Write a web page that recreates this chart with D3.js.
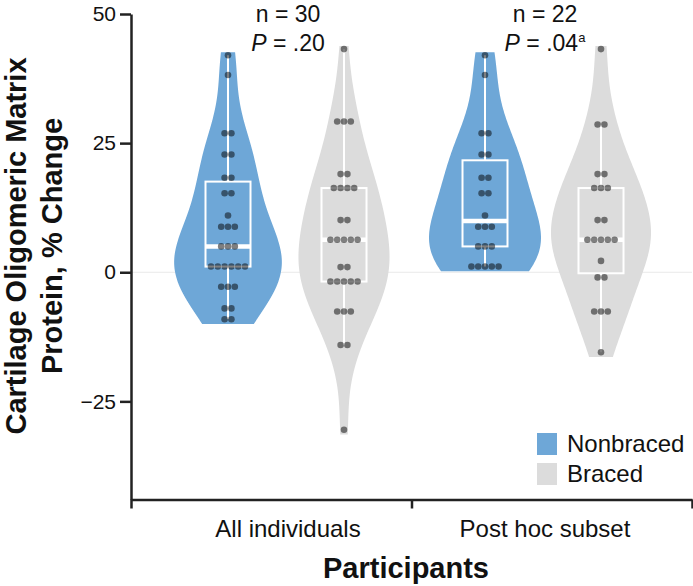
<!DOCTYPE html>
<html><head><meta charset="utf-8">
<script src="https://cdn.jsdelivr.net/npm/d3@7"></script>
<style>
body{margin:0;background:#fff}
svg{display:block}
text{font-family:"Liberation Sans",Arial,Helvetica,sans-serif;fill:#111}
</style>
</head><body>
<svg id="chart" width="693" height="586"></svg>
<script>
// ---------- data ----------
const groups = ["All individuals", "Post hoc subset"];
const seriesNames = ["Nonbraced", "Braced"];
const seriesColors = ["#6ea7d7", "#dcdcdc"];

const nonbracedAll = [42.0, 38.2, 26.9, 26.9, 22.8, 22.8, 18.3, 18.3, 15.3, 15.3, 11.0,
  8.8, 8.8, 8.8, 5.0, 5.0, 5.0, 1.1, 1.1, 1.1, 1.1, 1.1, 1.1,
  -2.8, -2.8, -2.8, -7.0, -7.0, -9.1, -9.1];
const bracedAll = [43.2, 29.2, 29.2, 29.2, 19.0, 19.0, 16.3, 16.3, 16.3, 16.3, 10.1, 10.1,
  6.3, 6.3, 6.3, 6.3, 6.3, 1.0, 1.0, -1.8, -1.8, -1.8, -1.8, -1.8,
  -7.6, -7.6, -7.6, -14.1, -14.1, -30.5];
const nonbracedPostHoc = [42.0, 38.2, 26.9, 26.9, 22.8, 22.8, 18.3, 18.3, 15.3, 15.3, 11.0,
  8.8, 8.8, 8.8, 5.0, 5.0, 5.0, 1.1, 1.1, 1.1, 1.1, 1.1];
const bracedPostHoc = [43.2, 28.6, 28.6, 19.0, 19.0, 16.3, 16.3, 16.3, 10.1, 10.1,
  6.3, 6.3, 6.3, 6.3, 6.3, 2.2, -1.0, -1.0, -7.6, -7.6, -7.6, -15.5];

const nLabels = ["n = 30", "n = 22"];
const pValues = [".20", ".04"];
const pNotes = ["", "a"];
const yTicks = [-25, 0, 25, 50];
const yDomain = [-44, 50];
const yTitleLines = ["Cartilage Oligomeric Matrix", "Protein, % Change"];
const xTitle = "Participants";

const violins = [
  {group: groups[0], series: seriesNames[0], values: nonbracedAll},
  {group: groups[0], series: seriesNames[1], values: bracedAll},
  {group: groups[1], series: seriesNames[0], values: nonbracedPostHoc},
  {group: groups[1], series: seriesNames[1], values: bracedPostHoc}
];

// ---------- layout ----------
const svg = d3.select("#chart");
const axisLeftX = 131, axisRightX = 692, plotTop = 14, plotBottom = 499.5;

const y = d3.scaleLinear().domain(yDomain).range([plotBottom, plotTop]);
const xGroup = d3.scalePoint().domain(groups).range([286, 543]);
const xDodge = d3.scaleBand().domain(seriesNames).range([-116, 116]);
const xEdge = d3.scaleLinear().domain([0, groups.length]).range([axisLeftX, axisRightX]);
const color = d3.scaleOrdinal().domain(seriesNames).range(seriesColors);

// zero reference line
svg.append("line")
  .attr("x1", axisLeftX).attr("x2", axisRightX)
  .attr("y1", y(0)).attr("y2", y(0))
  .attr("stroke", "#e9e9e9").attr("stroke-width", 1.2);

// ---------- stats ----------
function kde(values, bw, pts) {
  return pts.map(t => [t, d3.mean(values, v => Math.exp(-0.5 * ((t - v) / bw) ** 2) / (bw * Math.sqrt(2 * Math.PI)))]);
}
violins.forEach(v => {
  const s = v.values.slice().sort(d3.ascending);
  const q1 = d3.quantile(s, 0.25), med = d3.quantile(s, 0.5), q3 = d3.quantile(s, 0.75);
  const iqr = q3 - q1;
  const sd = d3.deviation(s);
  const bw = 1.15 * 0.9 * Math.min(sd, iqr / 1.34) * Math.pow(s.length, -0.2);
  const lo = d3.min(s) - 0.9, hi = d3.max(s) + 0.6;
  const pts = d3.range(0, 121).map(i => lo + (hi - lo) * i / 120);
  v.density = kde(s, bw, pts);
  v.q1 = q1; v.med = med; v.q3 = q3;
  v.wLo = d3.min(s.filter(d => d >= q1 - 1.5 * iqr));
  v.wHi = d3.max(s.filter(d => d <= q3 + 1.5 * iqr));
  v.cx = xGroup(v.group) + xDodge(v.series) + xDodge.bandwidth() / 2;
});
const maxDens = d3.max(violins, v => d3.max(v.density, d => d[1]));
const wScale = d3.scaleLinear().domain([0, maxDens]).range([0, 56]);

// ---------- violins ----------
const gV = svg.append("g");
violins.forEach(v => {
  const area = d3.area()
    .y(d => y(d[0]))
    .x0(d => v.cx - wScale(d[1]))
    .x1(d => v.cx + wScale(d[1]))
    .curve(d3.curveBasis);
  gV.append("path").attr("d", area(v.density)).attr("fill", color(v.series));
});

// ---------- boxes ----------
const boxW = 45;
violins.forEach(v => {
  const g = svg.append("g").attr("stroke", "#fff").attr("fill", "none");
  g.append("line").attr("x1", v.cx).attr("x2", v.cx).attr("y1", y(v.q3)).attr("y2", y(v.wHi)).attr("stroke-width", 2);
  g.append("line").attr("x1", v.cx).attr("x2", v.cx).attr("y1", y(v.q1)).attr("y2", y(v.wLo)).attr("stroke-width", 2);
  g.append("rect").attr("x", v.cx - boxW / 2).attr("width", boxW)
    .attr("y", y(v.q3)).attr("height", y(v.q1) - y(v.q3)).attr("stroke-width", 2);
  g.append("line").attr("x1", v.cx - boxW / 2).attr("x2", v.cx + boxW / 2)
    .attr("y1", y(v.med)).attr("y2", y(v.med)).attr("stroke-width", 4.5);
});

// ---------- dots ----------
const dotStep = 6.8, dotR = 3.3;
violins.forEach(v => {
  const rows = d3.groups(v.values, d => d);
  rows.forEach(([val, arr]) => {
    arr.forEach((d, i) => {
      svg.append("circle")
        .attr("cx", v.cx + (i - (arr.length - 1) / 2) * dotStep)
        .attr("cy", y(val)).attr("r", dotR)
        .attr("fill", "#000").attr("fill-opacity", 0.5);
    });
  });
});

// ---------- axes ----------
const yAxis = svg.append("g").attr("transform", `translate(${axisLeftX},0)`)
  .call(d3.axisLeft(y).tickValues(yTicks).tickSize(11).tickPadding(4).tickSizeOuter(0));
yAxis.select(".domain").attr("stroke", "#222").attr("stroke-width", 2.5);
yAxis.selectAll(".tick line").attr("stroke", "#222").attr("stroke-width", 2.5);
yAxis.selectAll(".tick text").style("font-size", "21px").attr("fill", "#111")
  .style("font-family", '"Liberation Sans",Arial,sans-serif');

const xAxis = svg.append("g").attr("transform", `translate(0,${plotBottom})`)
  .call(d3.axisBottom(xEdge).tickValues(d3.range(0, groups.length + 1)).tickSize(9).tickFormat("").tickSizeOuter(0));
xAxis.select(".domain").attr("stroke", "#222").attr("stroke-width", 2.5);
xAxis.selectAll(".tick line").attr("stroke", "#222").attr("stroke-width", 2.5);

// category labels
groups.forEach(gname => {
  svg.append("text").attr("x", xGroup(gname) + 2).attr("y", 537)
    .attr("text-anchor", "middle").style("font-size", "24px").text(gname);
});

// annotations
groups.forEach((gname, i) => {
  svg.append("text").attr("x", xGroup(gname) + 2).attr("y", 22)
    .attr("text-anchor", "middle").style("font-size", "23px").text(nLabels[i]);
  const t = svg.append("text").attr("x", xGroup(gname) + 2).attr("y", 51)
    .attr("text-anchor", "middle").style("font-size", "23px");
  t.append("tspan").style("font-style", "italic").text("P");
  t.append("tspan").text(" = " + pValues[i]);
  if (pNotes[i]) t.append("tspan").attr("dy", -9).style("font-size", "13px").text(pNotes[i]);
});

// axis titles
svg.append("text").attr("x", 406).attr("y", 578).attr("text-anchor", "middle")
  .style("font-size", "29px").style("font-weight", "bold").text(xTitle);
yTitleLines.forEach((line, i) => {
  svg.append("text")
    .attr("transform", `translate(${26 + i * 36},246) rotate(-90)`)
    .attr("text-anchor", "middle")
    .style("font-size", "29px").style("font-weight", "bold").text(line);
});

// legend
const legend = svg.append("g");
seriesNames.forEach((s, i) => {
  legend.append("rect").attr("x", 537).attr("y", 433 + i * 30).attr("width", 20).attr("height", 22)
    .attr("fill", color(s));
  legend.append("text").attr("x", 567).attr("y", 452 + i * 30).style("font-size", "24px").text(s);
});
</script>
</body></html>
